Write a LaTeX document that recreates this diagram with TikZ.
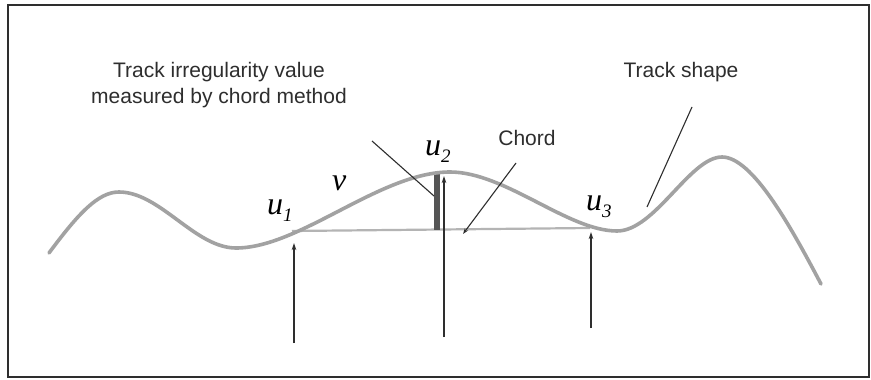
\documentclass[tikz,border=0pt]{standalone}
\usepackage{fontspec}
\setmainfont{Liberation Sans}
\newfontfamily\tmsfont{Liberation Serif}
\usetikzlibrary{arrows.meta}
\definecolor{trackgray}{HTML}{A2A2A2}
\definecolor{chordgray}{HTML}{B4B4B4}
\definecolor{inkdark}{HTML}{2E2E2E}
\definecolor{bargray}{HTML}{555555}
\newcommand{\ulab}[2]{{\tmsfont\itshape\fontsize{32}{32}\selectfont #1\raisebox{-0.22em}{\fontsize{19}{19}\selectfont #2}}}
\tikzset{
  lbl/.style={font=\fontsize{21}{26}\selectfont, text=inkdark, inner sep=0pt},
  mathlbl/.style={inner sep=0pt, anchor=base west, text=black},
  track/.style={draw=trackgray, line width=3.6pt, line cap=round, line join=round},
  chordline/.style={draw=chordgray, line width=2.2pt},
  leader/.style={draw=inkdark, line width=1.1pt},
  uparrow/.style={draw=inkdark, line width=1.1pt, -{Stealth[length=7pt,width=4.5pt]}}
}
\begin{document}
\begin{tikzpicture}[x=1pt,y=-1pt]
\useasboundingbox (0,0) rectangle (871,380);
\fill[white] (0,0) rectangle (871,380);
\draw[inkdark, line width=2pt] (8,5) rectangle (869,377);

% chord and bar
\coordinate (p1) at (292,231);
\coordinate (p3) at (590,228);
\coordinate (barbot) at (436.5,229.5);
\coordinate (bartop) at (436.5,172);
\draw[chordline] (p1) -- (p3);
\draw[bargray, line width=6pt] (barbot) -- (bartop);

% track shape
\draw[track] (49,253) .. controls (78,214) and (98,192) .. (119,192)
  .. controls (160,192) and (195,248) .. (236,248)
  .. controls (300,248) and (380,172) .. (450,172)
  .. controls (505,172) and (568,231) .. (617,231)
  .. controls (655,231) and (690,157) .. (722,157)
  .. controls (752,157) and (790,225) .. (821,284);

% arrows from below
\coordinate (a1s) at (294,343);
\coordinate (a1e) at (294,243);
\coordinate (a2s) at (444,337);
\coordinate (a2e) at (444,176);
\coordinate (a3s) at (591,328);
\coordinate (a3e) at (591,232);
\draw[uparrow] (a1s) -- (a1e);
\draw[uparrow] (a2s) -- (a2e);
\draw[uparrow] (a3s) -- (a3e);

% labels
\node[lbl, align=center] (irr) at (219,85) {Track irregularity value\\measured by chord method};
\node[lbl] (chord) at (527,138) {Chord};
\node[lbl] (shape) at (681,72) {Track shape};

\node[mathlbl] (u1) at (267,214) {\ulab{u}{1}};
\node[mathlbl] (u2) at (425,155) {\ulab{u}{2}};
\node[mathlbl] (u3) at (586,210) {\ulab{u}{3}};
\node[mathlbl] (v) at (332,190) {\tmsfont\itshape\fontsize{32}{32}\selectfont v};

% leaders
\coordinate (irrs) at (372,141);
\coordinate (chs) at (516,163);
\coordinate (che) at (463,234);
\coordinate (shs) at (692,107);
\coordinate (she) at (647,207);
\draw[leader] (irrs) -- (434,196);
\draw[leader, -{Stealth[length=6pt,width=4pt]}] (chs) -- (che);
\draw[leader] (shs) -- (she);
\end{tikzpicture}
\end{document}
